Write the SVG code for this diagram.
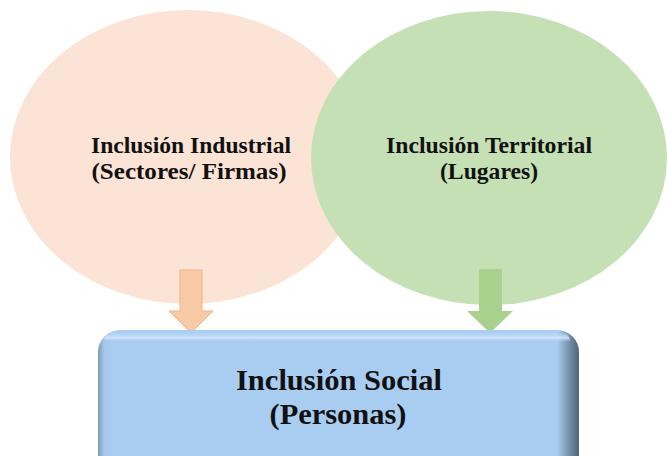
<svg xmlns="http://www.w3.org/2000/svg" width="667" height="456" viewBox="0 0 667 456">
<style>
.t{font-family:"Liberation Serif","Times New Roman",Times,serif;font-weight:bold;fill:#111;text-anchor:middle}
.s{font-size:23px}
.b{font-size:29px}
</style>
<defs>
<linearGradient id="edgeH" x1="98" y1="0" x2="579" y2="0" gradientUnits="userSpaceOnUse">
<stop offset="0" stop-color="#7f9ab4"/>
<stop offset="0.012" stop-color="#a3c6e8"/>
<stop offset="0.03" stop-color="#a9cdf1"/>
<stop offset="0.955" stop-color="#a9cdf1"/>
<stop offset="0.975" stop-color="#7e9ab5"/>
<stop offset="1" stop-color="#4e6479"/>
</linearGradient>
<linearGradient id="topH" x1="0" y1="330" x2="0" y2="350" gradientUnits="userSpaceOnUse">
<stop offset="0" stop-color="#a9cdf1" stop-opacity="0"/>
<stop offset="0.4" stop-color="#d4e8fb" stop-opacity="0.9"/>
<stop offset="0.6" stop-color="#a9cdf1" stop-opacity="0"/>
</linearGradient>
</defs>
<g id="node-industrial">
<ellipse cx="188" cy="157" rx="178" ry="147" fill="#fbe4d6"/>
<text class="t s" x="191" y="153" textLength="200" lengthAdjust="spacingAndGlyphs">Inclusión Industrial</text>
<text class="t s" x="189" y="179" textLength="195" lengthAdjust="spacingAndGlyphs">(Sectores/ Firmas)</text>
</g>
<g id="node-territorial">
<ellipse cx="489" cy="158" rx="178" ry="147" fill="#c5e0b4"/>
<text class="t s" x="489" y="153" textLength="206" lengthAdjust="spacingAndGlyphs">Inclusión Territorial</text>
<text class="t s" x="489" y="179" textLength="98" lengthAdjust="spacingAndGlyphs">(Lugares)</text>
</g>
<g id="connectors">
<polygon points="180,270 202,270 202,311 213,311 191,333 169,311 180,311" fill="#f8caa6" stroke="#f4b183" stroke-width="1"/>
<polygon points="479,269 502,269 502,311 513,311 490,333 467,311 479,311" fill="#a9d18e"/>
</g>
<g id="node-social">
<rect x="98" y="330" width="481" height="150" rx="22" fill="url(#edgeH)"/>
<rect x="104" y="331" width="466" height="20" rx="12" fill="url(#topH)"/>
<text class="t b" x="339" y="390" textLength="206" lengthAdjust="spacingAndGlyphs">Inclusión Social</text>
<text class="t b" x="338" y="424" textLength="137" lengthAdjust="spacingAndGlyphs">(Personas)</text>
</g>
</svg>
